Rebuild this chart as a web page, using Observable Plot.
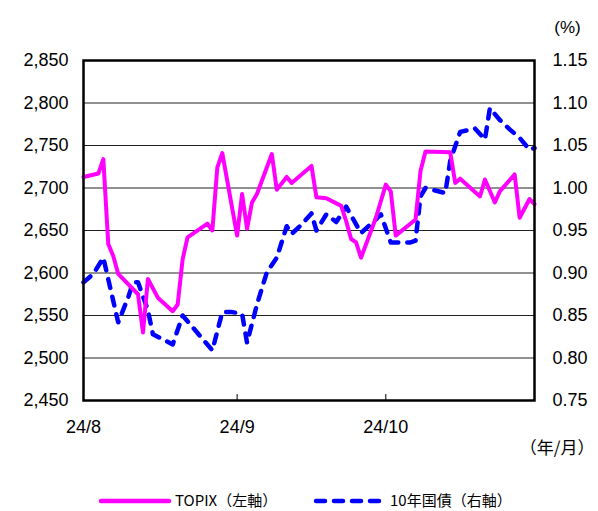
<!DOCTYPE html>
<html><head><meta charset="utf-8">
<script src="https://cdn.jsdelivr.net/npm/d3@7"></script>
<script src="https://cdn.jsdelivr.net/npm/@observablehq/plot@0.6"></script>
<style>
body{margin:0;background:#fff;}
#wrap{position:relative;width:598px;height:511px;overflow:hidden;font-family:"Liberation Sans",Arial,"Noto Sans CJK JP",sans-serif;}
#legend{position:absolute;left:0;top:470px;width:598px;height:41px;}
</style></head><body>
<div id="wrap"><div id="chart"></div><div id="legend"></div></div>
<script>
const topixDates = ["2024-08-01","2024-08-04","2024-08-05","2024-08-06","2024-08-07","2024-08-08","2024-08-12","2024-08-13","2024-08-14","2024-08-16","2024-08-19","2024-08-20","2024-08-21","2024-08-22","2024-08-26","2024-08-27","2024-08-28","2024-08-29","2024-09-01","2024-09-02","2024-09-03","2024-09-04","2024-09-05","2024-09-08","2024-09-09","2024-09-11","2024-09-12","2024-09-16","2024-09-17","2024-09-19","2024-09-22","2024-09-23","2024-09-24","2024-09-25","2024-09-26","2024-09-29","2024-10-01","2024-10-02","2024-10-03","2024-10-07","2024-10-08","2024-10-09","2024-10-14","2024-10-15","2024-10-16","2024-10-20","2024-10-21","2024-10-23","2024-10-24","2024-10-27","2024-10-28","2024-10-30","2024-10-31"];
const topixValues = [2713,2717,2734,2634,2620,2599,2575,2530,2593,2571,2555,2563,2616,2642,2658,2650,2724,2741,2644,2693,2652,2683,2693,2740,2698,2713,2706,2726,2689,2688,2679,2661,2640,2636,2618,2665,2704,2696,2644,2663,2720,2743,2742,2706,2711,2690,2710,2683,2696,2716,2665,2687,2681];
const jgbDates = ["2024-08-01","2024-08-03","2024-08-05","2024-08-08","2024-08-10","2024-08-11","2024-08-12","2024-08-14","2024-08-15","2024-08-19","2024-08-21","2024-08-27","2024-08-29","2024-08-31","2024-09-02","2024-09-03","2024-09-05","2024-09-07","2024-09-09","2024-09-11","2024-09-12","2024-09-14","2024-09-16","2024-09-17","2024-09-19","2024-09-21","2024-09-23","2024-09-26","2024-09-29","2024-09-30","2024-10-02","2024-10-06","2024-10-07","2024-10-08","2024-10-09","2024-10-13","2024-10-14","2024-10-16","2024-10-19","2024-10-21","2024-10-22","2024-10-24","2024-10-26","2024-10-28","2024-10-30","2024-10-31"];
const jgbValues = [0.889,0.899,0.918,0.842,0.871,0.889,0.889,0.856,0.828,0.816,0.850,0.809,0.854,0.854,0.852,0.818,0.863,0.901,0.918,0.955,0.946,0.957,0.970,0.950,0.969,0.960,0.978,0.947,0.963,0.969,0.936,0.936,0.938,0.990,1.000,0.994,1.032,1.066,1.070,1.057,1.094,1.080,1.069,1.059,1.045,1.047];
const leftTicks = [2450,2500,2550,2600,2650,2700,2750,2800,2850];
const rightTicks = [0.75,0.80,0.85,0.90,0.95,1.00,1.05,1.10,1.15];
const monthTicks = ["2024-08-01","2024-09-01","2024-10-01"];
const monthLabels = ["24/8","24/9","24/10"];
const seriesNames = ["TOPIX（左軸）","10年国債（右軸）"];
const xDomain = ["2024-08-01","2024-10-31"];

const pDate = d3.utcParse("%Y-%m-%d");
const yDom = [leftTicks[0], leftTicks[leftTicks.length-1]];
const y2Dom = [rightTicks[0], rightTicks[rightTicks.length-1]];
const k = (yDom[1]-yDom[0])/(y2Dom[1]-y2Dom[0]);
const toLeft = v => yDom[0] + (v - y2Dom[0]) * k;
const toRight = v => y2Dom[0] + (v - yDom[0]) / k;

const topix = topixDates.map((d,i)=>({date:pDate(d), value:topixValues[i]}));
const jgb = jgbDates.map((d,i)=>({date:pDate(d), value:toLeft(jgbValues[i])}));
const mt = monthTicks.map(pDate);
const labelOf = new Map(mt.map((d,i)=>[+d, monthLabels[i]]));

const MAGENTA = "#ff00ff", BLUE = "#0000ff";

const chart = Plot.plot({
  width: 598, height: 470,
  marginLeft: 83, marginRight: 64, marginTop: 60, marginBottom: 70,
  style: {fontFamily: '"Liberation Sans", Arial, "Noto Sans CJK JP", sans-serif', fontSize: "18px", color: "#000", background: "#fff"},
  x: {type: "utc", domain: xDomain.map(pDate)},
  y: {domain: yDom},
  marks: [
    Plot.gridY(leftTicks, {stroke: "#222", strokeOpacity: 1, strokeWidth: 1}),
    Plot.axisY(leftTicks, {anchor: "left", tickSize: 0, tickPadding: 15, tickFormat: d3.format(","), label: null, fontSize: 18}),
    Plot.axisY(leftTicks, {anchor: "right", tickSize: 0, tickPadding: 18, tickFormat: d => toRight(d).toFixed(2), label: null, fontSize: 18}),
    Plot.axisX(mt.slice(1), {anchor: "bottom", tickSize: -6, tickFormat: () => "", label: null, strokeWidth: 1}),
    Plot.axisX(mt, {anchor: "bottom", tickSize: 0, tickPadding: 20, tickFormat: d => labelOf.get(+d), label: null, fontSize: 18}),
    Plot.line(jgb, {x: "date", y: "value", stroke: BLUE, strokeWidth: 4.5, strokeDasharray: "9,9", strokeLinecap: "round", strokeLinejoin: "round"}),
    Plot.line(topix, {x: "date", y: "value", stroke: MAGENTA, strokeWidth: 4, strokeLinejoin: "round"}),
    Plot.frame({stroke: "#000", strokeWidth: 2.5}),
    Plot.text(["(%)"], {frameAnchor: "top-right", dx: 33, dy: -40, fontSize: 17, textAnchor: "middle"}),
    Plot.text(["（年/月）"], {frameAnchor: "bottom-right", dx: 60, dy: 53, fontSize: 17, textAnchor: "end", fontFamily: '"Noto Sans CJK JP", sans-serif'})
  ]
});
document.getElementById("chart").append(chart);

// Legend
const lg = d3.select("#legend").append("svg").attr("width", 598).attr("height", 41);
const items = [
  {name: seriesNames[0], color: MAGENTA, dash: null, x: 101},
  {name: seriesNames[1], color: BLUE, dash: "9,9", x: 316}
];
items.forEach(it => {
  const g = lg.append("g").attr("transform", `translate(${it.x},31)`);
  g.append("line").attr("x1", 0).attr("x2", 68).attr("y1", 0).attr("y2", 0)
    .attr("stroke", it.color).attr("stroke-width", 4.5)
    .attr("stroke-linecap", "round").attr("stroke-dasharray", it.dash);
  g.append("text").attr("x", 74).attr("y", 0).attr("dy", "0.35em")
    .attr("font-size", 15).attr("font-family", '"Noto Sans CJK JP", sans-serif')
    .text(it.name);
});
</script>
</body></html>
